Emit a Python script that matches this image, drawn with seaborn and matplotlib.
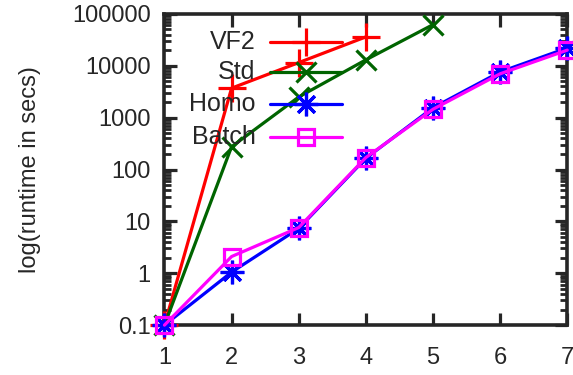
import matplotlib
matplotlib.use("Agg")
import matplotlib.pyplot as plt
import seaborn as sns
import pandas as pd

sns.set_style("ticks")
plt.rcParams['font.family'] = ['Liberation Sans', 'DejaVu Sans']

x_vf2 = [1, 2, 3, 4]
vf2 = [0.1, 3700, 11500, 36000]
x_std = [1, 2, 3, 4, 5]
std = [0.1, 275, 2500, 13000, 62000]
x_homo = [1, 2, 3, 4, 5, 6, 7]
homo = [0.1, 1.05, 7.3, 165, 1550, 7600, 22000]
x_batch = [1, 2, 3, 4, 5, 6, 7]
batch = [0.1, 2.1, 7.6, 170, 1450, 7000, 20000]

names = ["VF2", "Std", "Homo", "Batch"]
colors = ["#ff0000", "#006400", "#0000ff", "#ff00ff"]
markers = ["+", "x", (8, 2, 0), "s"]
msizes = [20, 15, 17, 12]
yticks = [0.1, 1, 10, 100, 1000, 10000, 100000]
ytick_labels = ["0.1", "1", "10", "100", "1000", "10000", "100000"]
xticks = [1, 2, 3, 4, 5, 6, 7]

rows = []
for n, xs, ys in zip(names, [x_vf2, x_std, x_homo, x_batch], [vf2, std, homo, batch]):
    for a, b in zip(xs, ys):
        rows.append({"series": n, "x": a, "y": b})
df = pd.DataFrame(rows)

fig, ax = plt.subplots(figsize=(5.73, 3.75), dpi=100)
fig.subplots_adjust(left=0.287, right=0.99, top=0.963, bottom=0.133)

for n, c, m, ms in zip(names, colors, markers, msizes):
    sub = df[df.series == n]
    sns.lineplot(data=sub, x="x", y="y", ax=ax, color=c, marker=m, markersize=ms,
                 linewidth=2.3, markeredgewidth=2.3, markeredgecolor=c,
                 markerfacecolor="none", legend=False, zorder=3, clip_on=False)

ax.set_yscale("log")
ax.set_xlim(1, 7)
ax.set_ylim(0.1, 100000)
ax.set_yticks(yticks)
ax.set_yticklabels(ytick_labels)
ax.set_xticks(xticks)
ax.set_xticklabels([str(t) for t in xticks])
ax.set_xlabel("")
ax.set_ylabel("log(runtime in secs)", fontsize=17, labelpad=22)
ax.tick_params(axis="both", which="major", direction="in", length=9, width=2.3,
               labelsize=17, top=True, right=True, pad=10)
ax.tick_params(axis="y", which="minor", direction="in", length=5, width=2.0,
               left=True, right=True)
ax.tick_params(axis="x", which="major", pad=16)
for s in ax.spines.values():
    s.set_linewidth(2.6)

# legend (gnuplot style: label right-aligned, sample to the right)
leg_y = [0.91, 0.813, 0.71, 0.605]
for n, c, m, ms, yy in zip(names, colors, markers, msizes, leg_y):
    ax.plot([0.263, 0.442], [yy, yy], transform=ax.transAxes, color=c, linewidth=2.3,
            clip_on=False, zorder=4)
    ax.plot([0.352], [yy], transform=ax.transAxes, color=c, marker=m, markersize=ms,
            markeredgewidth=2.3, markerfacecolor="none", linestyle="none", zorder=4)
    ax.text(0.226, yy, n, transform=ax.transAxes, ha="right", va="center",
            fontsize=18, zorder=5)

fig.savefig("out.png", dpi=100)
